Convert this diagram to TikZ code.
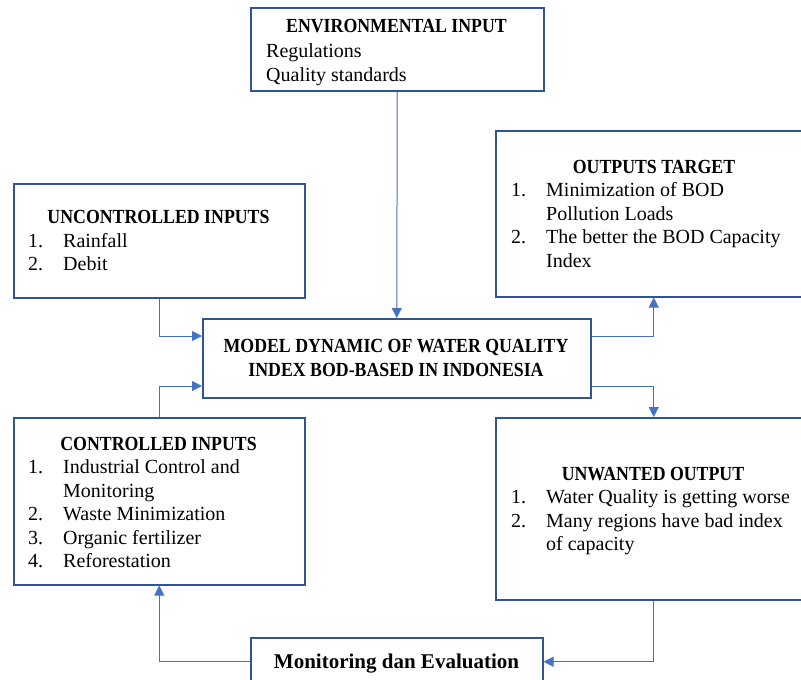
\documentclass[tikz,border=0pt]{standalone}
\usepackage{fontspec}
\setmainfont{Liberation Serif}
\newfontface\titlefont{Liberation Serif Bold}[FakeStretch=0.89]
\usetikzlibrary{arrows.meta}
\definecolor{boxblue}{HTML}{2F5597}
\definecolor{lineblue}{HTML}{4472C4}
\tikzset{
  box/.style={draw=boxblue, line width=1.5pt, inner sep=0pt, anchor=north west, fill=white},
  ttl/.style={anchor=base, inner sep=0pt, font=\fontsize{20}{24}\titlefont},
  txt/.style={anchor=base west, inner sep=0pt, font=\fontsize{20}{24}\selectfont},
  conn/.style={draw=lineblue, line width=1pt},
  arr/.style={conn, -{Triangle[length=10pt,width=10pt]}}
}
\begin{document}
\begin{tikzpicture}[x=1pt,y=-1pt]
\useasboundingbox (0,0) rectangle (801,680);
% boxes
\node[box, minimum width=293pt, minimum height=83pt] (env) at (250,7) {};
\node[box, minimum width=291pt, minimum height=114pt] (unc) at (13,183) {};
\node[box, minimum width=388pt, minimum height=79pt] (main) at (202,318) {};
\node[box, minimum width=316pt, minimum height=166pt] (out) at (495,130) {};
\node[box, minimum width=291pt, minimum height=167pt] (ctl) at (13,417) {};
\node[box, minimum width=316pt, minimum height=182pt] (unw) at (495,417) {};
\node[box, minimum width=292pt, minimum height=48pt] (mon) at (250,637) {};
% environmental input
\node[ttl] (envt) at (396.5,32) {ENVIRONMENTAL INPUT};
\node[txt] (env1) at (266,57) {Regulations};
\node[txt] (env2) at (266,81) {Quality standards};
% uncontrolled
\node[ttl] (unct) at (158.5,223) {UNCONTROLLED INPUTS};
\node[txt] (uncn1) at (28,247) {1.};
\node[txt] (unc1) at (63,247) {Rainfall};
\node[txt] (uncn2) at (28,270) {2.};
\node[txt] (unc2) at (63,270) {Debit};
% main
\node[ttl] (maint1) at (396,352) {MODEL DYNAMIC OF WATER QUALITY};
\node[ttl] (maint2) at (396,376) {INDEX BOD-BASED IN INDONESIA};
% outputs target
\node[ttl] (outt) at (654,173) {OUTPUTS TARGET};
\node[txt] (outn1) at (511,196) {1.};
\node[txt] (out1) at (546,196) {Minimization of BOD};
\node[txt] (out1b) at (546,220) {Pollution Loads};
\node[txt] (outn2) at (511,243) {2.};
\node[txt] (out2) at (546,243) {The better the BOD Capacity};
\node[txt] (out2b) at (546,267) {Index};
% controlled
\node[ttl] (ctlt) at (158.5,450) {CONTROLLED INPUTS};
\node[txt] (ctln1) at (28,473) {1.};
\node[txt] (ctl1) at (63,473) {Industrial Control and};
\node[txt] (ctl1b) at (63,497) {Monitoring};
\node[txt] (ctln2) at (28,520) {2.};
\node[txt] (ctl2) at (63,520) {Waste Minimization};
\node[txt] (ctln3) at (28,544) {3.};
\node[txt] (ctl3) at (63,544) {Organic fertilizer};
\node[txt] (ctln4) at (28,567) {4.};
\node[txt] (ctl4) at (63,567) {Reforestation};
% unwanted
\node[ttl] (unwt) at (653,480) {UNWANTED OUTPUT};
\node[txt] (unwn1) at (511,503) {1.};
\node[txt] (unw1) at (546,503) {Water Quality is getting worse};
\node[txt] (unwn2) at (511,527) {2.};
\node[txt] (unw2) at (546,527) {Many regions have bad index};
\node[txt] (unw2b) at (546,550) {of capacity};
% monitoring
\node[ttl, font=\fontsize{21}{24}\bfseries] (mont) at (396.5,668) {Monitoring dan Evaluation};
% connectors
\coordinate (ya) at (0,336);
\coordinate (yb) at (0,386);
\draw[arr] (env.south) -- (main.north);
\draw[arr] (unc.south) |- (main.west |- ya);
\draw[arr] (ctl.north) |- (main.west |- yb);
\draw[arr] (main.east |- ya) -| (out.south);
\draw[arr] (main.east |- yb) -| (unw.north);
\draw[arr] (unw.south) |- (mon.east);
\draw[arr] (mon.west) -| (ctl.south);
\end{tikzpicture}
\end{document}
